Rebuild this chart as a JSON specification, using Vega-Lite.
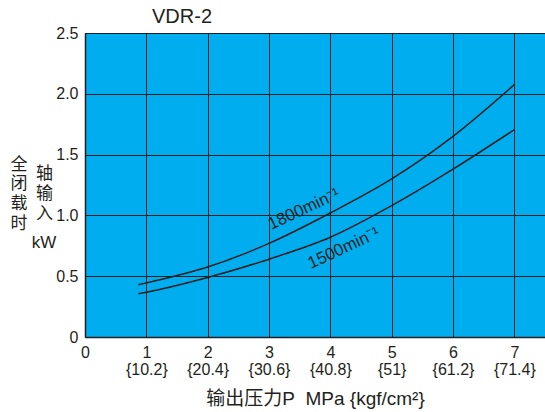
{
  "$schema": "https://vega.github.io/schema/vega-lite/v6.json",
  "width": 460,
  "height": 304,
  "autosize": {"type": "none"},
  "padding": {"left": 85, "top": 33, "right": 0, "bottom": 75},
  "background": "white",
  "title": {"text": "VDR-2", "anchor": "start", "frame": "group", "dx": 67, "fontSize": 20, "font": "Liberation Sans", "fontWeight": "normal", "color": "#231f20", "offset": -2},
  "config": {"view": {"fill": "#00AEEF", "stroke": null}},
  "datasets": {
    "curves": [
      {"rpm": "1800", "p": 0.87, "kw": 0.43},
      {"rpm": "1800", "p": 1, "kw": 0.445},
      {"rpm": "1800", "p": 2, "kw": 0.575},
      {"rpm": "1800", "p": 3, "kw": 0.77},
      {"rpm": "1800", "p": 4, "kw": 1.02},
      {"rpm": "1800", "p": 5, "kw": 1.3},
      {"rpm": "1800", "p": 6, "kw": 1.65},
      {"rpm": "1800", "p": 7, "kw": 2.075},
      {"rpm": "1500", "p": 0.87, "kw": 0.355},
      {"rpm": "1500", "p": 1, "kw": 0.368},
      {"rpm": "1500", "p": 2, "kw": 0.49},
      {"rpm": "1500", "p": 3, "kw": 0.64},
      {"rpm": "1500", "p": 4, "kw": 0.82},
      {"rpm": "1500", "p": 5, "kw": 1.08},
      {"rpm": "1500", "p": 6, "kw": 1.38},
      {"rpm": "1500", "p": 7, "kw": 1.705}
    ],
    "labels": [
      {"p": 3.57, "kw": 1.05, "label": "1800min⁻¹"},
      {"p": 4.22, "kw": 0.73, "label": "1500min⁻¹"}
    ]
  },
  "layer": [
    {
      "data": {"name": "curves"},
      "mark": {"type": "line", "interpolate": "monotone", "color": "#231f20", "strokeWidth": 1.5},
      "encoding": {
        "x": {
          "field": "p", "type": "quantitative",
          "scale": {"domain": [0, 7.5], "nice": false, "zero": false},
          "axis": {
            "values": [0, 1, 2, 3, 4, 5, 6, 7],
            "grid": true, "gridColor": "#231f20", "gridOpacity": 1, "gridWidth": 1,
            "ticks": false, "domainColor": "#231f20", "domainWidth": 1.5,
            "labelExpr": "datum.value == 0 ? '0' : [format(datum.value, 'd'), ['', '{10.2}', '{20.4}', '{30.6}', '{40.8}', '{51}', '{61.2}', '{71.4}'][datum.value]]",
            "labelFont": "Liberation Sans", "labelFontSize": 16, "labelColor": "#231f20",
            "labelPadding": 7, "labelLineHeight": 17.5, "labelFlush": false, "labelOverlap": false,
            "title": "输出压力P\u00a0\u00a0MPa {kgf/cm²}",
            "titleFont": "Liberation Sans, Noto Sans CJK SC", "titleFontSize": 19, "titleFontWeight": "normal",
            "titleColor": "#231f20", "titleY": 61, "titleBaseline": "middle"
          }
        },
        "y": {
          "field": "kw", "type": "quantitative",
          "scale": {"domain": [0, 2.5], "nice": false},
          "axis": {
            "values": [0, 0.5, 1, 1.5, 2, 2.5],
            "grid": true, "gridColor": "#231f20", "gridOpacity": 1, "gridWidth": 1,
            "ticks": false, "domainColor": "#231f20", "domainWidth": 1.5,
            "labelExpr": "datum.value == 0 ? '0' : format(datum.value, '.1f')",
            "labelFont": "Liberation Sans", "labelFontSize": 16, "labelColor": "#231f20",
            "labelPadding": 7, "labelFlush": false, "labelOverlap": false,
            "title": ["全", "\u200b\u2003\u2002轴", "闭", "\u200b\u2003\u2002输", "载", "\u200b\u2003\u2002入", "时", "\u200b", "\u200b\u2003\u2005kW"],
            "titleFont": "Liberation Sans, Noto Sans CJK SC", "titleFontSize": 17, "titleFontWeight": "normal",
            "titleColor": "#231f20", "titleAngle": 0, "titleAlign": "left", "titleBaseline": "top",
            "titleX": -75, "titleY": 123, "titleLineHeight": 9.85
          }
        },
        "detail": {"field": "rpm"}
      }
    },
    {
      "data": {"name": "labels"},
      "mark": {"type": "text", "angle": 335, "font": "Liberation Sans", "fontSize": 17, "color": "#231f20", "align": "center", "baseline": "middle"},
      "encoding": {
        "x": {"field": "p", "type": "quantitative"},
        "y": {"field": "kw", "type": "quantitative"},
        "text": {"field": "label"}
      }
    }
  ]
}
